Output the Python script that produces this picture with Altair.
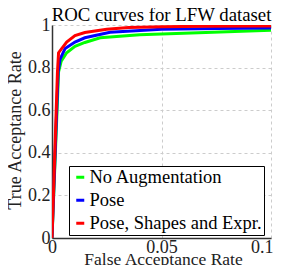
import altair as alt
import pandas as pd

series_names = ["No Augmentation", "Pose", "Pose, Shapes and Expr."]
series_colors = ["#00ff00", "#0000ff", "#ff0000"]

fpr_none = [0, 0.003, 0.0042, 0.0067, 0.0105, 0.015, 0.022, 0.04, 0.0735, 0.1]
tpr_none = [0, 0.78, 0.83, 0.87, 0.90, 0.918, 0.94, 0.954, 0.966, 0.975]

fpr_pose = [0, 0.0028, 0.0037, 0.006, 0.0105, 0.015, 0.0265, 0.05, 0.075, 0.1]
tpr_pose = [0, 0.78, 0.84, 0.89, 0.92, 0.94, 0.966, 0.98, 0.984, 0.986]

fpr_full = [0, 0.0025, 0.003, 0.0067, 0.0105, 0.015, 0.025, 0.035, 0.05, 0.07, 0.1]
tpr_full = [0, 0.78, 0.87, 0.92, 0.95, 0.965, 0.98, 0.988, 0.992, 0.994, 0.995]

x_ticks = [0, 0.05, 0.1]
y_ticks = [0, 0.2, 0.4, 0.6, 0.8, 1]

rows = []
for name, xs, ys in zip(series_names, [fpr_none, fpr_pose, fpr_full], [tpr_none, tpr_pose, tpr_full]):
    for i, (a, b) in enumerate(zip(xs, ys)):
        rows.append({"series": name, "fpr": a, "tpr": b, "idx": i})
df = pd.DataFrame(rows)

FONT = "Liberation Serif"

chart = alt.Chart(df).mark_line(strokeWidth=3, clip=True).encode(
    x=alt.X("fpr:Q", scale=alt.Scale(domain=[0, 0.1], nice=False),
            axis=alt.Axis(values=x_ticks, title="False Acceptance Rate",
                          labelExpr="format(datum.value, '')",
                          labelPadding=0, tickSize=0, labelFlush=False,
                          labelAlign={"condition": {"test": "datum.value >= 0.1", "value": "right"}, "value": "center"},
                          labelOffset={"condition": {"test": "datum.value >= 0.1", "value": 2}, "value": 0},
                          titleX=111, titleY=26, titleBaseline="alphabetic",
                          titleFontSize=17.5)),
    y=alt.Y("tpr:Q", scale=alt.Scale(domain=[0, 1], nice=False),
            axis=alt.Axis(values=y_ticks, title="True Acceptance Rate",
                          labelExpr="format(datum.value, '')",
                          labelPadding=2, tickSize=0, labelFlush=False,
                          labelBaseline="middle",
                          titleX=-37, titleY=105, titleAngle=270,
                          titleBaseline="middle", titleAlign="center")),
    color=alt.Color("series:N",
                    scale=alt.Scale(domain=series_names, range=series_colors),
                    legend=alt.Legend(title=None, orient="none", legendX=17, legendY=141,
                                      symbolType="stroke", symbolSize=64,
                                      symbolStrokeWidth=3, labelOffset=0,
                                      fillColor="white", strokeColor="black",
                                      padding=2, rowPadding=4,
                                      labelFont=FONT, labelFontSize=18.5,
                                      labelColor="black", labelLimit=400)),
    detail="series:N",
    order="idx:Q",
).properties(
    width=219, height=213,
    title=alt.TitleParams("ROC curves for LFW dataset", font=FONT, fontSize=18.8,
                          fontWeight="normal", color="black", anchor="middle",
                          baseline="alphabetic", offset=3, frame="group", dy=27),
    autosize=alt.AutoSizeParams(type="none"),
    padding={"left": 44, "top": 17, "right": 4, "bottom": 27},
).configure_axis(
    labelFont=FONT, titleFont=FONT, labelFontSize=18, titleFontSize=18,
    titleFontWeight="normal", labelColor="#222", titleColor="#222",
    gridColor="#cccccc", gridDash=[3, 3], gridWidth=1,
    domainColor="#333333", domainWidth=1.5,
).configure_legend(
    labelFont=FONT, labelFontSize=18.5,
).configure_view(stroke=None)

chart.save("out.html", embed_options={"renderer": "svg", "actions": False})
